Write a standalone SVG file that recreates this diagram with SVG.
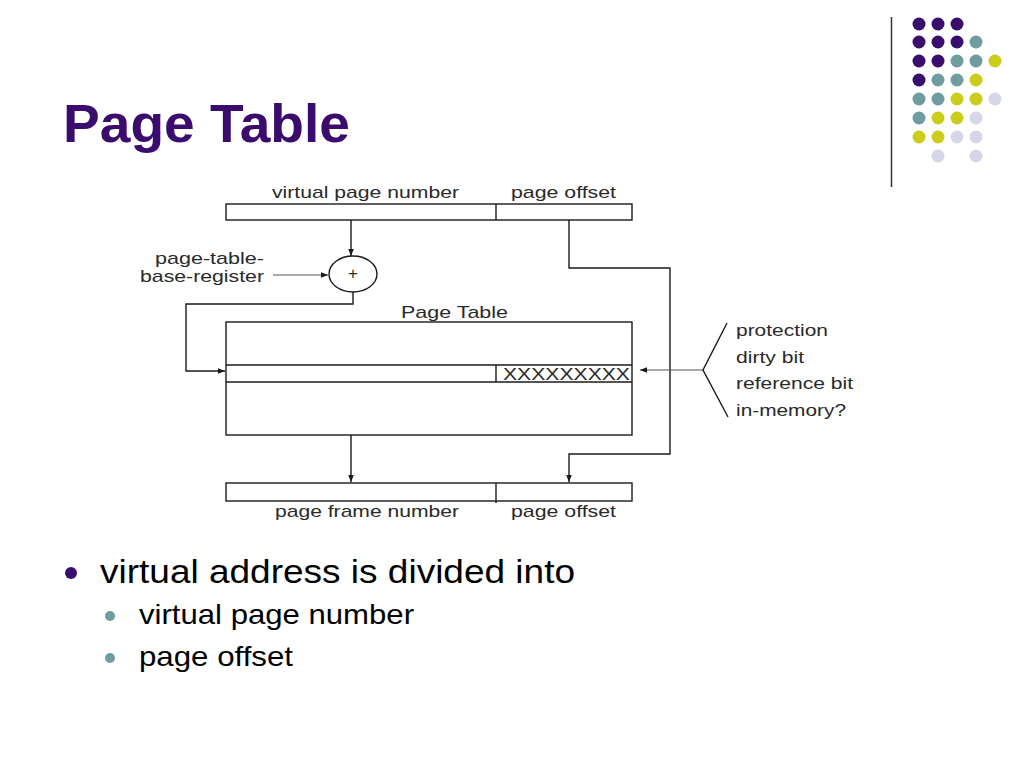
<svg xmlns="http://www.w3.org/2000/svg" width="1024" height="768" viewBox="0 0 1024 768">
<defs>
<style>
.t{font-family:"Liberation Sans",Arial,sans-serif;fill:#2a2a2a;font-size:17px}
.ln{fill:none;stroke:#1a1a1a;stroke-width:1.4}
.lg{fill:none;stroke:#555;stroke-width:1.1}
.bx{fill:#fff;stroke:#1a1a1a;stroke-width:1.4}
.p{fill:#3a0c6d}.g{fill:#6e9c9f}.y{fill:#cccc1c}.v{fill:#d6d6ea}
</style>
<marker id="ah" viewBox="0 0 10 10" refX="10" refY="5" markerWidth="7" markerHeight="7" markerUnits="userSpaceOnUse" orient="auto">
<path d="M0,1 L10,5 L0,9 Z" fill="#1a1a1a"/>
</marker>
</defs>
<rect width="1024" height="768" fill="#fff"/>

<g id="decor">
<line x1="891.5" y1="17" x2="891.5" y2="187" stroke="#333" stroke-width="1.5"/>
<circle class="p" cx="919" cy="24" r="6.5"/><circle class="p" cx="938" cy="24" r="6.5"/><circle class="p" cx="957" cy="24" r="6.5"/>
<circle class="p" cx="919" cy="42" r="6.5"/><circle class="p" cx="938" cy="42" r="6.5"/><circle class="p" cx="957" cy="42" r="6.5"/><circle class="g" cx="976" cy="42" r="6.5"/>
<circle class="p" cx="919" cy="61" r="6.5"/><circle class="p" cx="938" cy="61" r="6.5"/><circle class="g" cx="957" cy="61" r="6.5"/><circle class="g" cx="976" cy="61" r="6.5"/><circle class="y" cx="995" cy="61" r="6.5"/>
<circle class="p" cx="919" cy="80" r="6.5"/><circle class="g" cx="938" cy="80" r="6.5"/><circle class="g" cx="957" cy="80" r="6.5"/><circle class="y" cx="976" cy="80" r="6.5"/>
<circle class="g" cx="919" cy="99" r="6.5"/><circle class="g" cx="938" cy="99" r="6.5"/><circle class="y" cx="957" cy="99" r="6.5"/><circle class="y" cx="976" cy="99" r="6.5"/><circle class="v" cx="995" cy="99" r="6.5"/>
<circle class="g" cx="919" cy="118" r="6.5"/><circle class="y" cx="938" cy="118" r="6.5"/><circle class="y" cx="957" cy="118" r="6.5"/><circle class="v" cx="976" cy="118" r="6.5"/>
<circle class="y" cx="919" cy="137" r="6.5"/><circle class="y" cx="938" cy="137" r="6.5"/><circle class="v" cx="957" cy="137" r="6.5"/><circle class="v" cx="976" cy="137" r="6.5"/>
<circle class="v" cx="938" cy="156" r="6.5"/><circle class="v" cx="976" cy="156" r="6.5"/>
</g>

<text id="title" x="63" y="142" font-family="'Liberation Sans',Arial,sans-serif" font-weight="bold" font-size="54" fill="#3a0c6d" textLength="287" lengthAdjust="spacingAndGlyphs">Page Table</text>

<g id="connectors">
<line class="ln" x1="351" y1="220" x2="351" y2="256" marker-end="url(#ah)"/>
<line class="lg" x1="273" y1="275" x2="328" y2="275" marker-end="url(#ah)"/>
<polyline class="ln" points="353,292 353,304 186,304 186,371 225,371" marker-end="url(#ah)"/>
<line class="ln" x1="351" y1="382" x2="351" y2="482" marker-end="url(#ah)"/>
<polyline class="ln" points="569,220 569,268 670,268 670,454 569,454 569,482" marker-end="url(#ah)"/>
<line class="lg" x1="703" y1="370" x2="640" y2="370" marker-end="url(#ah)"/>
<polyline class="ln" points="727,323 703,370 728,417"/>
</g>

<g id="virtual-address">
<rect class="bx" x="226" y="204" width="406" height="16"/>
<line class="ln" x1="496" y1="204" x2="496" y2="220"/>
<text class="t" x="272" y="198" textLength="187" lengthAdjust="spacingAndGlyphs">virtual page number</text>
<text class="t" x="511" y="198" textLength="105" lengthAdjust="spacingAndGlyphs">page offset</text>
</g>

<g id="adder">
<ellipse cx="353" cy="274" rx="24" ry="18" fill="#fff" stroke="#1a1a1a" stroke-width="1.4"/>
<text class="t" x="353" y="279" text-anchor="middle" font-size="14">+</text>
</g>

<g id="ptbr">
<text class="t" x="264" y="264" text-anchor="end" textLength="109" lengthAdjust="spacingAndGlyphs">page-table-</text>
<text class="t" x="264" y="282" text-anchor="end" textLength="124" lengthAdjust="spacingAndGlyphs">base-register</text>
</g>

<g id="page-table">
<text class="t" x="401" y="318" textLength="107" lengthAdjust="spacingAndGlyphs">Page Table</text>
<rect class="bx" x="226" y="322" width="406" height="113"/>
<line class="ln" x1="226" y1="365" x2="632" y2="365"/>
<line class="ln" x1="226" y1="382" x2="632" y2="382"/>
<line class="ln" x1="496" y1="365" x2="496" y2="382"/>
<text class="t" x="503" y="380" textLength="127" lengthAdjust="spacingAndGlyphs">XXXXXXXXX</text>
</g>

<g id="bits">
<text class="t" x="736" y="336" textLength="92" lengthAdjust="spacingAndGlyphs">protection</text>
<text class="t" x="736" y="363" textLength="68" lengthAdjust="spacingAndGlyphs">dirty bit</text>
<text class="t" x="736" y="389" textLength="117" lengthAdjust="spacingAndGlyphs">reference bit</text>
<text class="t" x="736" y="416" textLength="110" lengthAdjust="spacingAndGlyphs">in-memory?</text>
</g>

<g id="physical-address">
<rect class="bx" x="226" y="483" width="406" height="18"/>
<line class="ln" x1="496" y1="483" x2="496" y2="503"/>
<text class="t" x="275" y="517" textLength="184" lengthAdjust="spacingAndGlyphs">page frame number</text>
<text class="t" x="511" y="517" textLength="105" lengthAdjust="spacingAndGlyphs">page offset</text>
</g>

<g id="bullets" font-family="'Liberation Sans',Arial,sans-serif" fill="#000">
<circle cx="71" cy="573" r="6" fill="#3a0c6d"/>
<text x="100" y="583" font-size="34" textLength="475" lengthAdjust="spacingAndGlyphs">virtual address is divided into</text>
<circle cx="110" cy="616" r="5" fill="#6e9c9f"/>
<text x="139" y="624" font-size="28" textLength="275" lengthAdjust="spacingAndGlyphs">virtual page number</text>
<circle cx="110" cy="658" r="5" fill="#6e9c9f"/>
<text x="139" y="666" font-size="28" textLength="154" lengthAdjust="spacingAndGlyphs">page offset</text>
</g>
</svg>
